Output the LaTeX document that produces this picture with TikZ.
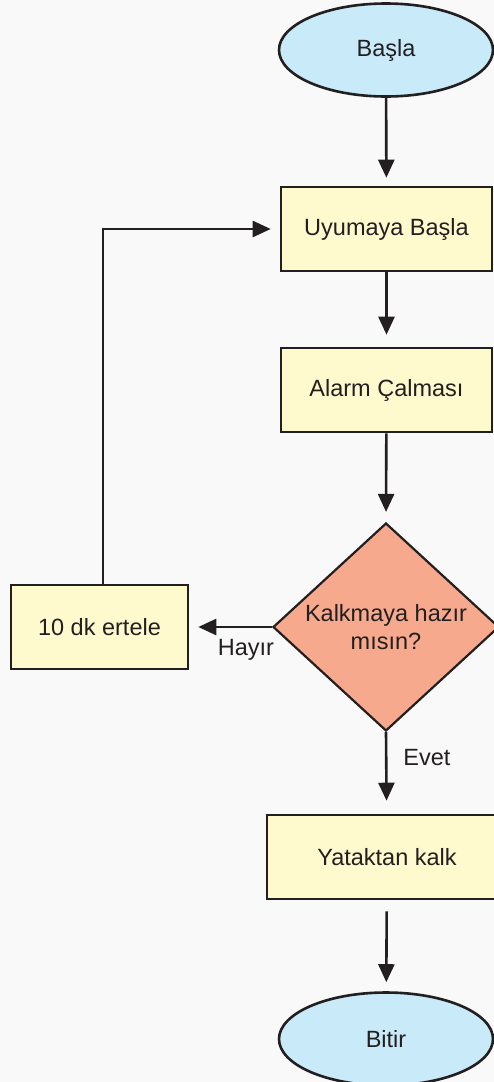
\documentclass[tikz,border=0pt]{standalone}
\usepackage{fontspec}
\setmainfont{Liberation Sans}
\usetikzlibrary{shapes.geometric,arrows.meta}
\definecolor{bg}{HTML}{F9F9F9}
\definecolor{ink}{HTML}{231F20}
\definecolor{termfill}{HTML}{C9EAF9}
\definecolor{procfill}{HTML}{FFF9CE}
\definecolor{decfill}{HTML}{F6A98C}
\tikzset{
  every node/.style={font=\fontsize{23.5}{28}\selectfont, text=ink},
  term/.style={ellipse, draw=ink, line width=2.6pt, fill=termfill, minimum width=214pt, minimum height=93pt, inner sep=0pt},
  proc/.style={rectangle, draw=ink, line width=2.6pt, fill=procfill, minimum width=211pt, minimum height=84pt, inner sep=0pt},
  dec/.style={diamond, draw=ink, line width=2.2pt, fill=decfill, minimum width=226pt, minimum height=208pt, aspect=1.09, inner sep=0pt, align=center},
  conn/.style={draw=ink, line width=2.6pt, -{Triangle[length=18pt,width=16pt]}},
  lbl/.style={inner sep=0pt}
}
\begin{document}
\begin{tikzpicture}[x=1pt,y=-1pt]
\useasboundingbox (0,0) rectangle (494,1082);
\fill[bg] (0,0) rectangle (494,1082);
\clip (0,0) rectangle (494,1082);
\node[term] (start) at (386,50) {Başla};
\node[proc] (sleep) at (386.5,229) {Uyumaya Başla};
\node[proc] (alarm) at (386.5,390) {Alarm Çalması};
\node[dec] (ready) at (386,627) {Kalkmaya hazır\\mısın?};
\node[proc, minimum width=177pt] (snooze) at (99.5,627) {10 dk ertele};
\node[proc, minimum width=240pt] (up) at (387,857) {Yataktan kalk};
\node[term] (end) at (386,1039) {Bitir};
\coordinate (corner) at (103,229);
\draw[conn, shorten >=8pt] (start) -- (sleep);
\draw[conn, shorten >=12pt] (sleep) -- (alarm);
\draw[conn, shorten >=10pt] (alarm) -- (ready.north);
\draw[conn, shorten >=9pt] (ready.west) -- (snooze);
\draw[conn, shorten >=13pt] (ready.south) -- (up);
\draw[conn, shorten <=11pt, shorten >=9pt] (up) -- (end);
\draw[conn, shorten >=9pt] (snooze.north -| corner) -- (corner) -- (sleep.west);
\node[lbl] (hayir) at (246,650) {Hayır};
\node[lbl] (evet) at (427,758) {Evet};
\end{tikzpicture}
\end{document}
